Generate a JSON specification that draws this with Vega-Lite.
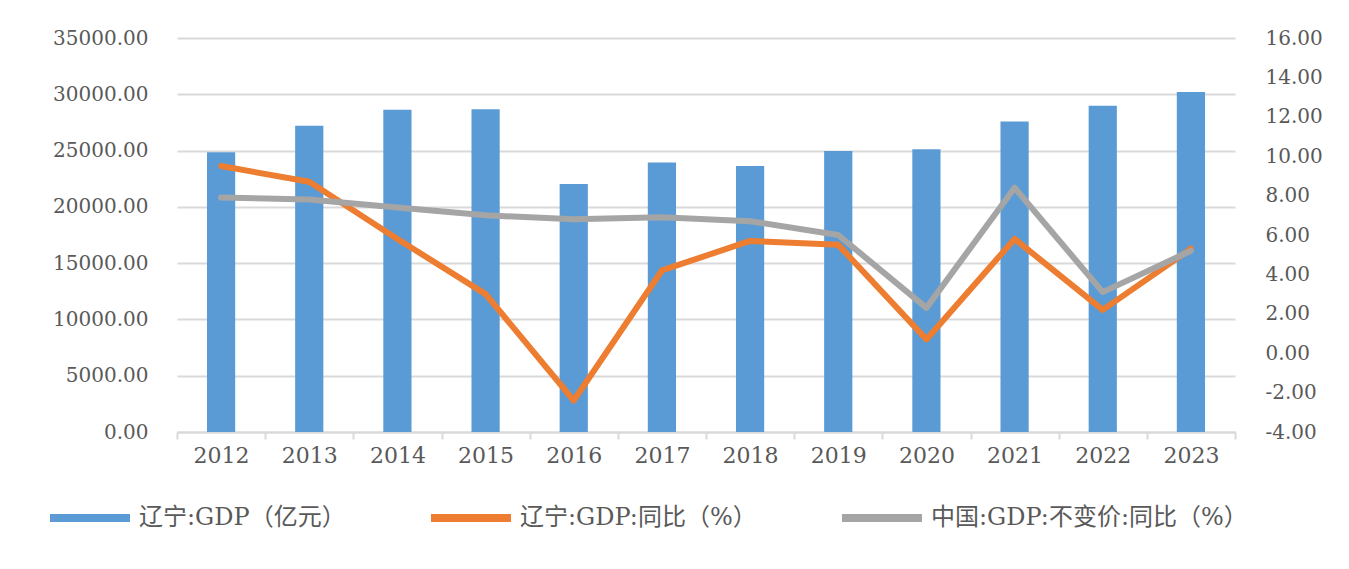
{
  "$schema": "https://vega.github.io/schema/vega-lite/v6.json",
  "width": 1058,
  "height": 394,
  "autosize": {"type": "none"},
  "padding": {"left": 177, "top": 38, "right": 114, "bottom": 137},
  "background": "white",
  "data": {
    "values": [
      {"year": "2012", "series": "辽宁:GDP（亿元）", "value": 24846},
      {"year": "2013", "series": "辽宁:GDP（亿元）", "value": 27213},
      {"year": "2014", "series": "辽宁:GDP（亿元）", "value": 28627},
      {"year": "2015", "series": "辽宁:GDP（亿元）", "value": 28669},
      {"year": "2016", "series": "辽宁:GDP（亿元）", "value": 22038},
      {"year": "2017", "series": "辽宁:GDP（亿元）", "value": 23942},
      {"year": "2018", "series": "辽宁:GDP（亿元）", "value": 23630},
      {"year": "2019", "series": "辽宁:GDP（亿元）", "value": 24955},
      {"year": "2020", "series": "辽宁:GDP（亿元）", "value": 25115},
      {"year": "2021", "series": "辽宁:GDP（亿元）", "value": 27584},
      {"year": "2022", "series": "辽宁:GDP（亿元）", "value": 28975},
      {"year": "2023", "series": "辽宁:GDP（亿元）", "value": 30209},
      {"year": "2012", "series": "辽宁:GDP:同比（%）", "value": 9.5},
      {"year": "2013", "series": "辽宁:GDP:同比（%）", "value": 8.7},
      {"year": "2014", "series": "辽宁:GDP:同比（%）", "value": 5.8},
      {"year": "2015", "series": "辽宁:GDP:同比（%）", "value": 3.0},
      {"year": "2016", "series": "辽宁:GDP:同比（%）", "value": -2.4},
      {"year": "2017", "series": "辽宁:GDP:同比（%）", "value": 4.2},
      {"year": "2018", "series": "辽宁:GDP:同比（%）", "value": 5.7},
      {"year": "2019", "series": "辽宁:GDP:同比（%）", "value": 5.5},
      {"year": "2020", "series": "辽宁:GDP:同比（%）", "value": 0.7},
      {"year": "2021", "series": "辽宁:GDP:同比（%）", "value": 5.8},
      {"year": "2022", "series": "辽宁:GDP:同比（%）", "value": 2.2},
      {"year": "2023", "series": "辽宁:GDP:同比（%）", "value": 5.3},
      {"year": "2012", "series": "中国:GDP:不变价:同比（%）", "value": 7.9},
      {"year": "2013", "series": "中国:GDP:不变价:同比（%）", "value": 7.8},
      {"year": "2014", "series": "中国:GDP:不变价:同比（%）", "value": 7.4},
      {"year": "2015", "series": "中国:GDP:不变价:同比（%）", "value": 7.0},
      {"year": "2016", "series": "中国:GDP:不变价:同比（%）", "value": 6.8},
      {"year": "2017", "series": "中国:GDP:不变价:同比（%）", "value": 6.9},
      {"year": "2018", "series": "中国:GDP:不变价:同比（%）", "value": 6.7},
      {"year": "2019", "series": "中国:GDP:不变价:同比（%）", "value": 6.0},
      {"year": "2020", "series": "中国:GDP:不变价:同比（%）", "value": 2.3},
      {"year": "2021", "series": "中国:GDP:不变价:同比（%）", "value": 8.4},
      {"year": "2022", "series": "中国:GDP:不变价:同比（%）", "value": 3.1},
      {"year": "2023", "series": "中国:GDP:不变价:同比（%）", "value": 5.2}
    ]
  },
  "encoding": {
    "x": {
      "field": "year",
      "type": "ordinal",
      "scale": {"paddingInner": 0, "paddingOuter": 0},
      "axis": {
        "title": null,
        "labelAngle": 0,
        "labelFont": "DejaVu Serif",
        "labelFontSize": 22,
        "labelColor": "#595959",
        "labelPadding": 6,
        "tickBand": "extent",
        "tickSize": 7,
        "tickColor": "#d9d9d9",
        "tickWidth": 2,
        "domainColor": "#d9d9d9",
        "domainWidth": 2,
        "grid": false
      }
    },
    "color": {
      "field": "series",
      "type": "nominal",
      "scale": {
        "domain": ["辽宁:GDP（亿元）", "辽宁:GDP:同比（%）", "中国:GDP:不变价:同比（%）"],
        "range": ["#5B9BD5", "#ED7D31", "#A5A5A5"]
      },
      "legend": {
        "orient": "none",
        "legendX": -127,
        "legendY": 440,
        "direction": "horizontal",
        "title": null,
        "symbolType": "M-1,-0.1H1V0.1H-1Z",
        "symbolSize": 6400,
        "symbolStrokeWidth": 0,
        "labelFont": "DejaVu Serif, Noto Sans CJK SC",
        "labelFontSize": 24,
        "labelColor": "#595959",
        "labelLimit": 0,
        "labelOffset": 9,
        "columnPadding": 85,
        "encode": {
          "symbols": {
            "update": {
              "fill": {"scale": "color", "field": "value"},
              "stroke": {"value": "transparent"},
              "opacity": {"value": 1}
            }
          }
        }
      }
    }
  },
  "layer": [
    {
      "transform": [{"filter": "datum.series === '辽宁:GDP（亿元）'"}],
      "mark": {"type": "bar", "width": {"band": 0.32}},
      "encoding": {
        "y": {
          "field": "value",
          "type": "quantitative",
          "scale": {"domain": [0, 35000], "nice": false, "zero": true},
          "axis": {
            "title": null,
            "values": [0, 5000, 10000, 15000, 20000, 25000, 30000, 35000],
            "format": ".2f",
            "labelFont": "DejaVu Serif",
            "labelFontSize": 20,
            "labelColor": "#595959",
            "labelPadding": 29,
            "ticks": false,
            "domain": false,
            "grid": true,
            "gridColor": "#d9d9d9",
            "gridWidth": 2
          }
        }
      }
    },
    {
      "transform": [{"filter": "datum.series !== '辽宁:GDP（亿元）'"}],
      "mark": {"type": "line", "strokeWidth": 6, "strokeJoin": "round", "strokeCap": "round"},
      "encoding": {
        "y": {
          "field": "value",
          "type": "quantitative",
          "scale": {"domain": [-4, 16], "nice": false, "zero": false},
          "axis": {
            "title": null,
            "orient": "right",
            "values": [-4, -2, 0, 2, 4, 6, 8, 10, 12, 14, 16],
            "format": ".2f",
            "labelExpr": "replace(datum.label, '\u2212', '-')",
            "labelFont": "DejaVu Serif",
            "labelFontSize": 20,
            "labelColor": "#595959",
            "labelPadding": 30,
            "ticks": false,
            "domain": false,
            "grid": false
          }
        }
      }
    }
  ],
  "resolve": {"scale": {"y": "independent"}},
  "config": {"view": {"stroke": null}}
}
